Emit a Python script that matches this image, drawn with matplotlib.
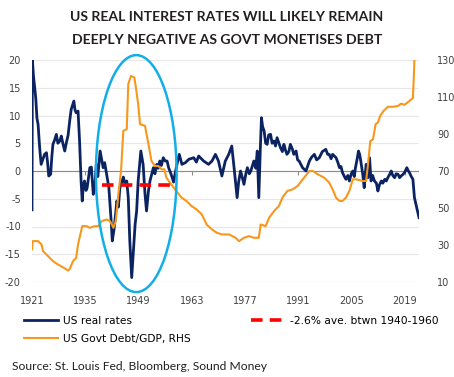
import matplotlib
matplotlib.use("Agg")
import matplotlib.pyplot as plt
from matplotlib.patches import Ellipse
from matplotlib.lines import Line2D

# ── Data ──────────────────────────────────────────────────────────────────────
rate_years = [1921.0, 1921.1, 1921.4, 1921.7, 1922.0, 1922.3, 1922.6, 1923.0, 1923.4, 1923.8,
              1924.3, 1924.8, 1925.1, 1925.4, 1925.9, 1926.2, 1926.5, 1926.9, 1927.4, 1927.8,
              1928.3, 1928.7, 1929.1, 1929.6, 1930.0, 1930.5, 1930.9, 1931.3, 1932.0, 1932.3,
              1932.6, 1933.1, 1933.5, 1933.9, 1934.2, 1934.5, 1934.8, 1935.2, 1935.5, 1935.9,
              1936.2, 1936.6, 1937.1, 1937.5, 1937.9, 1938.3, 1938.9, 1939.7, 1940.1, 1940.6,
              1941.2, 1941.8, 1942.1, 1942.6, 1943.3, 1943.7, 1944.1, 1944.6, 1945.0, 1945.5,
              1945.9, 1946.3, 1946.7, 1947.2, 1947.6, 1948.1, 1948.5, 1948.9, 1949.6, 1950.2,
              1950.7, 1951.1, 1951.6, 1952.0, 1952.5, 1952.9, 1953.3, 1953.8, 1954.2, 1954.6,
              1955.0, 1955.5, 1956.0, 1956.5, 1956.9, 1957.4, 1957.8, 1958.2, 1958.6, 1959.1,
              1959.7, 1960.4, 1961.3, 1962.2, 1963.5, 1964.2, 1964.8, 1966.1, 1967.4, 1968.3,
              1969.2, 1970.0, 1970.9, 1971.8, 1972.7, 1973.5, 1974.1, 1974.9, 1975.3, 1975.8,
              1976.2, 1976.7, 1977.2, 1977.6, 1978.1, 1978.5, 1979.3, 1979.8, 1980.2, 1980.6,
              1981.0, 1981.3, 1981.6, 1982.0, 1982.4, 1982.8, 1983.2, 1983.7, 1984.1, 1984.6,
              1985.0, 1985.4, 1985.9, 1986.3, 1986.8, 1987.2, 1987.6, 1988.0, 1988.5, 1988.9,
              1989.4, 1989.8, 1990.4, 1990.8, 1991.2, 1992.1, 1993.0, 1993.9, 1994.5, 1995.2,
              1995.8, 1996.5, 1997.3, 1998.2, 1998.7, 1999.1, 1999.6, 2000.0, 2000.9, 2001.4,
              2001.8, 2002.2, 2002.6, 2003.1, 2003.5, 2004.0, 2004.4, 2004.9, 2005.3, 2005.7,
              2006.0, 2006.4, 2006.8, 2007.1, 2007.4, 2007.9, 2008.3, 2008.8, 2009.3, 2009.7,
              2010.1, 2010.5, 2011.0, 2011.5, 2011.9, 2012.3, 2012.8, 2013.2, 2013.7, 2014.1,
              2014.5, 2015.0, 2015.4, 2015.8, 2016.3, 2016.7, 2017.2, 2017.6, 2018.0, 2018.5,
              2018.9, 2019.5, 2019.9, 2020.2, 2020.6, 2021.1, 2021.5, 2021.9, 2022.3, 2022.7]
real_rates = [-7.0, 20.0, 17.0, 15.1, 13.0, 9.5, 8.4, 4.3, 1.2, 2.0,
              3.0, 3.3, 1.5, -0.9, -0.6, 2.5, 4.8, 5.5, 6.6, 5.0,
              5.4, 6.3, 5.0, 3.6, 5.0, 6.5, 9.0, 11.1, 12.6, 11.0,
              10.5, 10.8, 5.4, -1.8, -5.4, -2.5, -1.8, -3.5, -3.0, -1.0,
              0.6, 0.7, -4.2, -3.0, 1.2, -1.0, 3.6, 0.6, 1.5, -0.6,
              -3.0, -9.0, -12.6, -10.3, -5.4, -6.5, -3.0, -2.0, -1.1, -2.5,
              -1.8, -4.8, -12.6, -19.2, -15.0, -9.6, -7.2, -1.8, 3.6, 1.2,
              -4.2, -7.2, -3.6, -1.8, -0.5, 0.6, -0.5, 1.2, 0.5, 1.8,
              1.0, 2.4, 1.8, 1.8, 0.6, -0.3, -1.1, -2.0, -0.5, 1.2,
              3.0, 1.2, 1.5, 2.1, 2.4, 1.6, 2.7, 1.8, 1.2, 1.8,
              3.0, 1.8, -0.9, 1.8, 3.0, 4.5, 0.6, -4.8, -2.0, 0.0,
              -1.0, -2.4, -0.5, 0.6, -0.5, 0.0, 1.8, 0.5, 3.6, -4.8,
              4.0, 9.6, 8.0, 7.2, 5.0, 4.8, 6.5, 6.6, 5.0, 5.4,
              4.5, 6.0, 5.0, 4.2, 3.5, 4.8, 3.8, 3.0, 3.5, 4.8,
              4.0, 3.0, 3.6, 2.0, 1.8, 0.6, 0.0, 1.8, 2.5, 3.0,
              2.0, 2.4, 3.5, 3.9, 3.0, 3.0, 2.2, 3.0, 2.4, 1.5,
              0.6, 0.8, -0.3, -1.0, -1.5, -0.8, -1.8, -0.5, 0.0, -1.0,
              0.6, 2.0, 3.6, 3.0, 1.8, -0.5, -3.0, 1.2, -1.2, 2.4,
              -1.8, -0.8, -1.8, -2.2, -3.6, -2.5, -1.8, -2.2, -1.5, -1.8,
              -1.2, -0.6, 0.0, -0.8, -1.2, -0.5, -0.6, -1.2, -0.9, -0.6,
              -0.3, 0.6, 0.0, -0.3, -0.9, -1.5, -4.8, -6.0, -7.2, -8.4]

debt_years = [1921.0, 1921.2, 1922.6, 1923.5, 1923.9, 1925.2, 1926.5, 1927.8, 1929.1, 1930.5,
              1930.9, 1931.8, 1932.6, 1933.1, 1933.5, 1934.2, 1935.3, 1936.2, 1937.5, 1938.4,
              1939.3, 1940.6, 1941.5, 1942.4, 1943.0, 1943.7, 1944.4, 1945.0, 1945.9, 1946.3,
              1947.0, 1947.9, 1948.3, 1948.9, 1949.4, 1950.7, 1951.1, 1951.7, 1952.4, 1953.3,
              1954.2, 1955.1, 1955.8, 1956.3, 1957.6, 1958.9, 1960.3, 1961.6, 1962.9, 1964.2,
              1965.6, 1966.9, 1968.3, 1969.6, 1970.9, 1972.8, 1974.5, 1975.4, 1976.7, 1978.0,
              1979.3, 1980.6, 1981.1, 1982.4, 1983.3, 1984.6, 1985.9, 1986.8, 1988.1, 1989.5,
              1990.8, 1992.5, 1993.9, 1994.8, 1996.1, 1997.8, 1999.1, 2000.0, 2000.9, 2001.8,
              2002.6, 2003.5, 2004.4, 2005.3, 2006.2, 2007.9, 2008.8, 2009.3, 2009.9, 2010.6,
              2011.3, 2011.9, 2012.5, 2013.4, 2014.5, 2015.9, 2017.2, 2018.0, 2018.9, 2020.2,
              2021.1, 2021.4, 2021.5]
debt_gdp = [27.6, 32.1, 32.1, 30.3, 26.7, 24.0, 21.3, 19.5, 18.0, 16.2,
            17.0, 21.3, 23.1, 30.3, 33.9, 40.2, 40.2, 39.3, 40.2, 40.2,
            42.9, 43.8, 42.9, 39.3, 42.9, 57.4, 70.0, 91.7, 92.6, 117.0,
            121.4, 120.5, 115.2, 106.1, 95.3, 94.4, 89.9, 83.5, 75.4, 72.7,
            72.7, 70.9, 70.9, 66.4, 62.8, 59.2, 55.6, 53.8, 51.1, 49.3,
            46.6, 41.1, 38.4, 36.6, 35.7, 35.7, 33.9, 32.1, 33.9, 34.8,
            33.9, 33.9, 41.1, 40.2, 44.7, 48.3, 51.1, 55.6, 59.2, 60.1,
            61.9, 66.4, 70.0, 70.0, 68.2, 66.4, 63.7, 60.1, 55.6, 53.8,
            53.8, 55.6, 59.2, 65.5, 65.5, 64.6, 64.6, 73.6, 86.2, 87.1,
            95.3, 96.2, 99.8, 102.5, 104.7, 104.7, 105.2, 106.4, 105.8, 107.9,
            109.4, 124.0, 130.5]

avg_years = [1939.3, 1958.6]
avg_rate = [-2.6, -2.6]

year_ticks = [1921, 1935, 1949, 1963, 1977, 1991, 2005, 2019]
left_ticks = [-20, -15, -10, -5, 0, 5, 10, 15, 20]
right_ticks = [10, 30, 50, 70, 90, 110, 130]

# ── Colours ──────────────────────────────────────────────────────────────────
NAVY = "#0B2461"
ORANGE = "#F7981D"
RED = "#FF0000"
CYAN = "#12AEE8"
GRID = "#E8E8E8"
TICK_COL = "#404040"

fig = plt.figure(figsize=(4.54, 3.77), dpi=100)
ax = fig.add_axes([32 / 454, 1 - 282 / 377, 387 / 454, 222 / 377])
ax2 = ax.twinx()

for a in (ax, ax2):
    for s in a.spines.values():
        s.set_visible(False)

ax.set_xlim(1921, 2022.7)
ax.set_ylim(-20, 20)
ax2.set_ylim(10, 130)

ax.set_yticks(left_ticks)
ax.set_yticklabels([str(v) for v in left_ticks])
ax2.set_yticks(right_ticks)
ax.set_xticks(year_ticks)
ax.tick_params(axis="y", length=0, pad=8, labelsize=7, labelcolor=TICK_COL)
ax2.tick_params(axis="y", length=0, pad=13, labelsize=7, labelcolor=TICK_COL)
ax.tick_params(axis="x", length=0, pad=10, labelsize=7, labelcolor=TICK_COL)

ax.grid(axis="y", color=GRID, linewidth=0.9)
ax.set_axisbelow(True)
ax.axhline(0, color="#8C8C8C", linewidth=0.8, zorder=1)
ax.plot(year_ticks, [0] * len(year_ticks), ls="", marker=3, ms=3,
        color="#8C8C8C", mew=0.8, zorder=1)

ax.plot(rate_years, real_rates, color=NAVY, lw=2.0, solid_joinstyle="round", zorder=2)
ax2.plot(debt_years, debt_gdp, color=ORANGE, lw=1.5, zorder=2)

# average line and highlight ellipse drawn in left-axis units, on top
ax2.plot(avg_years, avg_rate, color=RED, lw=2.6, dashes=(3.2, 2.0),
         transform=ax.transData, zorder=3)
ax2.add_patch(Ellipse((1948.4, -0.47), width=21.2, height=42.7,
                      transform=ax.transData, fill=False, edgecolor=CYAN,
                      lw=1.8, clip_on=False, zorder=4))
ax2.set_ylim(10, 130)

# ── Title ────────────────────────────────────────────────────────────────────
fig.text(0.5, 1 - 17 / 377, "US REAL INTEREST RATES WILL LIKELY REMAIN",
         ha="center", va="center", fontsize=10.1, fontweight="bold",
         family="Lato", color="#231F20")
fig.text(0.5, 1 - 40 / 377, "DEEPLY NEGATIVE AS GOVT MONETISES DEBT",
         ha="center", va="center", fontsize=10.1, fontweight="bold",
         family="Lato", color="#231F20")

# ── Legend ───────────────────────────────────────────────────────────────────
handles = [
    Line2D([], [], color=NAVY, lw=2.0),
    Line2D([], [], color=ORANGE, lw=1.5),
    Line2D([], [], color=RED, lw=2.6, dashes=(3.2, 2.0)),
]
labels = ["US real rates", "US Govt Debt/GDP, RHS", "-2.6% ave. btwn 1940-1960"]
fig.legend(handles, labels, loc="upper left", bbox_to_anchor=(24 / 454, 1 - 316 / 377),
           ncol=2, frameon=False, fontsize=7.7, handlelength=3.18, handletextpad=0.47,
           columnspacing=5.6, labelspacing=0.75, borderaxespad=0, borderpad=0)

fig.text(12 / 454, 1 - 367 / 377, "Source: St. Louis Fed, Bloomberg, Sound Money",
         ha="left", va="center", fontsize=8.7, family="Lato", color="#231F20")

fig.savefig("out.png", dpi=100)
